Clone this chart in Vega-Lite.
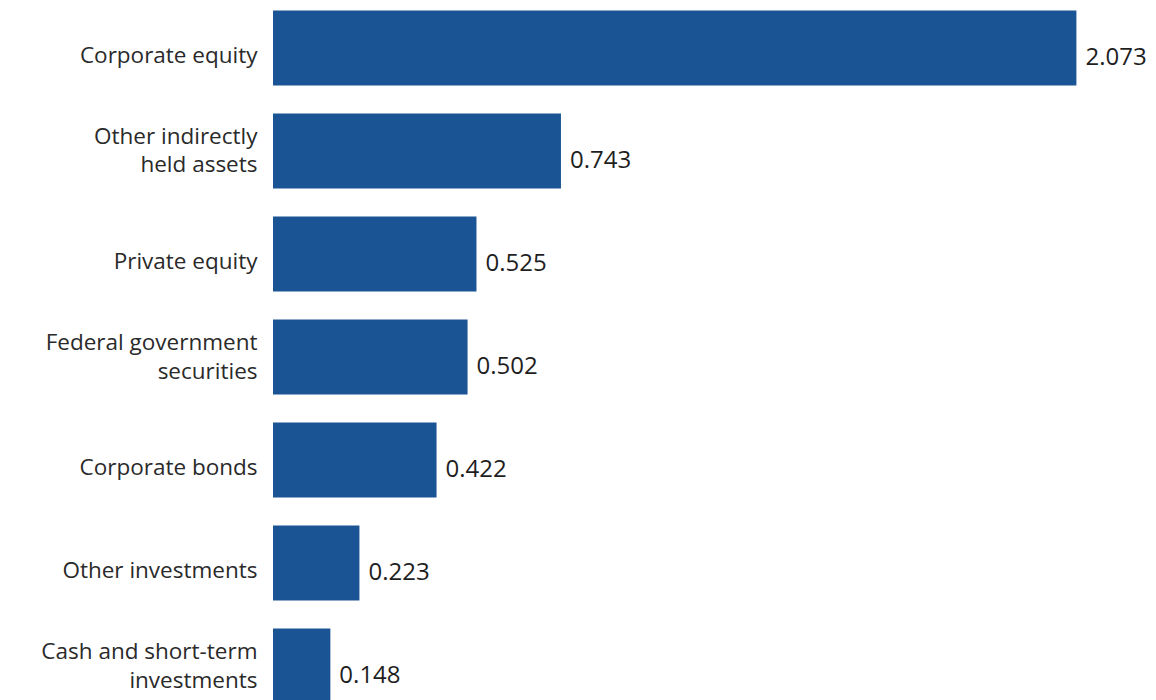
{
  "$schema": "https://vega.github.io/schema/vega-lite/v6.json",
  "width": 872,
  "height": 714,
  "autosize": {"type": "none"},
  "padding": {"left": 273, "top": 0, "right": 11, "bottom": 0},
  "background": "white",
  "config": {"view": {"stroke": null}, "font": "Open Sans"},
  "data": {
    "values": [
      {"category": "Corporate equity", "value": 2.073},
      {"category": "Other indirectly|held assets", "value": 0.743},
      {"category": "Private equity", "value": 0.525},
      {"category": "Federal government|securities", "value": 0.502},
      {"category": "Corporate bonds", "value": 0.422},
      {"category": "Other investments", "value": 0.223},
      {"category": "Cash and short-term|investments", "value": 0.148}
    ]
  },
  "encoding": {
    "y": {
      "field": "category",
      "type": "nominal",
      "sort": null,
      "scale": {"paddingInner": 0.272, "paddingOuter": 0.102},
      "axis": {
        "title": null,
        "domain": false,
        "ticks": false,
        "labelPadding": 16,
        "labelFontSize": 22.5,
        "labelColor": "#2a2a2a",
        "labelFont": "Open Sans",
        "labelLineHeight": 28.5,
        "labelExpr": "split(datum.label, '|')",
        "labelOffset": {"condition": {"test": "indexof(datum.value, '|') >= 0", "value": -14}, "value": 8},
        "labelLimit": 300
      }
    },
    "x": {
      "field": "value",
      "type": "quantitative",
      "scale": {"domain": [0, 2.25], "nice": false},
      "axis": null
    }
  },
  "layer": [
    {"mark": {"type": "bar", "color": "#1a5494"}},
    {
      "mark": {"type": "text", "align": "left", "baseline": "middle", "dx": 9, "dy": 10, "fontSize": 24, "color": "#1e1e1e", "font": "Open Sans"},
      "encoding": {"text": {"field": "value", "type": "quantitative", "format": ".3f"}}
    }
  ]
}
